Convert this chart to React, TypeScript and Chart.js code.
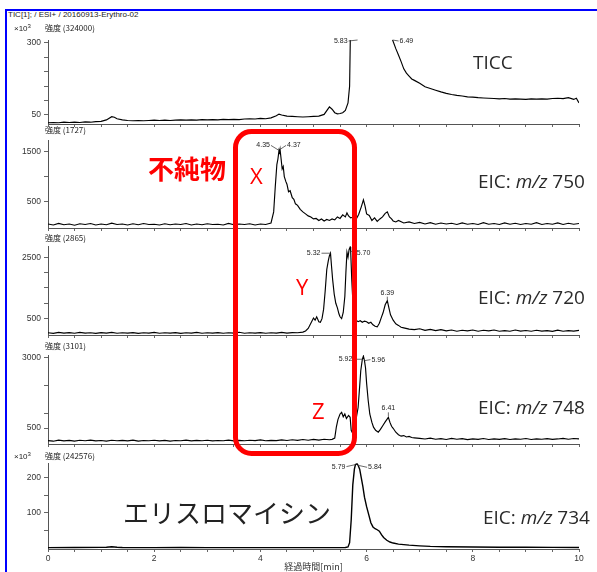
import React, { useEffect, useRef } from "react";
import { Chart, registerables } from "chart.js";
Chart.register(...registerables);

// ---------------- DATA ----------------
// TICC (intensity x10^3)
const ticcTime = [
  0, 0.1, 0.2, 0.3, 0.4, 0.5, 0.6, 0.7, 0.8, 0.9,
  1.0, 1.1, 1.2, 1.25, 1.3, 1.4, 1.5, 1.6, 1.7, 1.8,
  1.9, 2.0, 2.1, 2.2, 2.3, 2.4, 2.5, 2.6, 2.7, 2.8,
  2.9, 3.0, 3.1, 3.2, 3.3, 3.4, 3.5, 3.6, 3.7, 3.8,
  3.9, 4.0, 4.1, 4.2, 4.3, 4.35, 4.4, 4.5, 4.6, 4.7,
  4.8, 4.9, 5.0, 5.1, 5.2, 5.3, 5.35, 5.4, 5.45, 5.5,
  5.55, 5.6, 5.65, 5.68, 5.7, 5.83, 6.0, 6.3, 6.45, 6.49,
  6.55, 6.6, 6.65, 6.7, 6.75, 6.8, 6.85, 6.9, 7.0, 7.1,
  7.2, 7.3, 7.4, 7.5, 7.6, 7.7, 7.8, 7.9, 8.0, 8.1,
  8.2, 8.3, 8.4, 8.5, 8.6, 8.7, 8.8, 8.9, 9.0, 9.1,
  9.2, 9.3, 9.4, 9.5, 9.6, 9.7, 9.8, 9.9, 9.95, 10.0,
];
const ticcIntensity = [
  23, 24, 23, 25, 24, 25, 24, 26, 25, 27,
  28, 33, 44, 42, 37, 33, 31, 30, 31, 30,
  31, 32, 31, 32, 31, 32, 33, 32, 33, 32,
  34, 33, 34, 33, 35, 34, 35, 34, 36, 37,
  36, 38, 37, 40, 47, 53, 50, 46, 45, 44,
  43, 44, 45, 46, 52, 78, 70, 58, 54, 55,
  58, 66, 92, 150, 400, 900, 1000, 800, 400, 310,
  280, 258, 235, 210, 195, 185, 175, 170, 160, 148,
  142, 136, 130, 125, 121, 118, 116, 113, 112, 110,
  109, 108, 107, 106, 107, 105, 106, 105, 104, 106,
  105, 106, 105, 107, 108, 107, 110, 104, 108, 92,
];

// EIC m/z 750
const eic750Time = [
  0, 0.1, 0.2, 0.3, 0.4, 0.5, 0.6, 0.7, 0.8, 0.9,
  1.0, 1.1, 1.2, 1.3, 1.4, 1.5, 1.6, 1.7, 1.8, 1.9,
  2.0, 2.1, 2.2, 2.3, 2.4, 2.5, 2.6, 2.7, 2.8, 2.9,
  3.0, 3.1, 3.2, 3.3, 3.4, 3.5, 3.6, 3.7, 3.8, 3.9,
  4.0, 4.1, 4.15, 4.2, 4.25, 4.28, 4.31, 4.33, 4.35, 4.36,
  4.37, 4.39, 4.41, 4.43, 4.45, 4.48, 4.5, 4.53, 4.56, 4.6,
  4.63, 4.66, 4.7, 4.75, 4.8, 4.85, 4.9, 4.95, 5.0, 5.05,
  5.1, 5.15, 5.2, 5.25, 5.3, 5.35, 5.4, 5.45, 5.5, 5.55,
  5.6, 5.63, 5.66, 5.7, 5.75, 5.8, 5.85, 5.9, 5.94, 5.97,
  6.0, 6.05, 6.1, 6.15, 6.2, 6.25, 6.3, 6.35, 6.39, 6.43,
  6.47, 6.5, 6.55, 6.6, 6.7, 6.8, 6.9, 7.0, 7.1, 7.2,
  7.3, 7.4, 7.5, 7.6, 7.7, 7.8, 7.9, 8.0, 8.1, 8.2,
  8.3, 8.4, 8.5, 8.6, 8.7, 8.8, 8.9, 9.0, 9.1, 9.2,
  9.3, 9.4, 9.5, 9.6, 9.7, 9.8, 9.9, 10.0,
];
const eic750Intensity = [
  60, 40, 70, 45, 60, 35, 65, 50, 70, 40,
  60, 45, 75, 50, 60, 40, 65, 45, 70, 50,
  55, 40, 65, 45, 60, 50, 70, 40, 60, 45,
  65, 50, 55, 40, 70, 45, 60, 50, 65, 40,
  60, 50, 65, 80, 300, 800, 1240, 1350, 1520, 1480,
  1540, 1350, 1150, 1200, 1000, 900, 850, 700, 720, 580,
  550, 460, 430, 350, 300, 260, 220, 200, 160, 170,
  130, 160, 120, 150, 130, 160, 140, 200, 170, 240,
  200, 280, 220, 180, 200, 150, 250, 400, 540, 420,
  260, 230, 130, 180, 110, 160, 200, 270, 300, 200,
  160, 120, 100, 130, 80, 100, 70, 90, 60, 85,
  55, 80, 60, 75, 50, 80, 55, 70, 50, 85,
  55, 70, 50, 80, 55, 75, 50, 70, 55, 85,
  50, 70, 55, 80, 50, 75, 55, 70,
];

// EIC m/z 720
const eic720Time = [
  0, 0.1, 0.2, 0.3, 0.4, 0.5, 0.6, 0.7, 0.8, 0.9,
  1.0, 1.1, 1.2, 1.3, 1.4, 1.5, 1.6, 1.7, 1.8, 1.9,
  2.0, 2.1, 2.2, 2.3, 2.4, 2.5, 2.6, 2.7, 2.8, 2.9,
  3.0, 3.1, 3.2, 3.3, 3.4, 3.5, 3.6, 3.7, 3.8, 3.9,
  4.0, 4.1, 4.2, 4.3, 4.4, 4.5, 4.6, 4.7, 4.8, 4.85,
  4.9, 4.95, 5.0, 5.03, 5.06, 5.1, 5.13, 5.16, 5.19, 5.22,
  5.25, 5.28, 5.3, 5.32, 5.34, 5.36, 5.39, 5.42, 5.45, 5.48,
  5.5, 5.53, 5.56, 5.59, 5.61, 5.63, 5.65, 5.67, 5.69, 5.7,
  5.72, 5.74, 5.77, 5.8, 5.84, 5.88, 5.92, 5.96, 6.0, 6.04,
  6.08, 6.12, 6.16, 6.2, 6.24, 6.28, 6.31, 6.35, 6.39, 6.42,
  6.45, 6.5, 6.55, 6.6, 6.65, 6.7, 6.8, 6.9, 7.0, 7.1,
  7.2, 7.3, 7.4, 7.5, 7.6, 7.7, 7.8, 7.9, 8.0, 8.1,
  8.2, 8.3, 8.4, 8.5, 8.6, 8.7, 8.8, 8.9, 9.0, 9.1,
  9.2, 9.3, 9.4, 9.5, 9.6, 9.7, 9.8, 9.9, 10.0,
];
const eic720Intensity = [
  40, 20, 50, 30, 45, 25, 50, 30, 40, 20,
  45, 30, 50, 25, 40, 30, 45, 20, 40, 30,
  50, 25, 40, 30, 45, 20, 40, 30, 50, 25,
  40, 30, 45, 25, 40, 30, 55, 25, 40, 30,
  45, 25, 40, 30, 50, 30, 45, 40, 60, 100,
  180, 350, 520, 450, 560, 400, 380, 500, 800, 1400,
  2100, 2400, 2550, 2630, 2200, 1780, 1300, 1000, 850, 650,
  560, 500, 700, 1220, 2000, 2660, 2500, 2750, 2830, 2700,
  1780, 1100, 700, 450, 400, 430, 380, 420, 400, 350,
  380, 300, 250, 230, 350, 550, 690, 950, 1085, 850,
  625, 450, 330, 280, 220, 200, 160, 140, 170, 120,
  150, 110, 140, 100, 130, 90, 120, 100, 130, 90,
  120, 100, 130, 90, 110, 90, 130, 95, 115, 90,
  120, 95, 110, 85, 125, 90, 110, 95, 120,
];

// EIC m/z 748
const eic748Time = [
  0, 0.1, 0.2, 0.3, 0.4, 0.5, 0.6, 0.7, 0.8, 0.9,
  1.0, 1.1, 1.2, 1.3, 1.4, 1.5, 1.6, 1.7, 1.8, 1.9,
  2.0, 2.1, 2.2, 2.3, 2.4, 2.5, 2.6, 2.7, 2.8, 2.9,
  3.0, 3.1, 3.2, 3.3, 3.4, 3.5, 3.6, 3.7, 3.8, 3.9,
  4.0, 4.1, 4.2, 4.3, 4.4, 4.5, 4.6, 4.7, 4.8, 4.9,
  5.0, 5.1, 5.2, 5.3, 5.35, 5.4, 5.43, 5.46, 5.5, 5.53,
  5.56, 5.59, 5.62, 5.66, 5.69, 5.71, 5.74, 5.78, 5.81, 5.84,
  5.87, 5.89, 5.92, 5.94, 5.96, 5.98, 6.0, 6.03, 6.06, 6.1,
  6.13, 6.17, 6.22, 6.26, 6.31, 6.35, 6.38, 6.41, 6.44, 6.47,
  6.5, 6.55, 6.6, 6.65, 6.7, 6.75, 6.8, 6.85, 6.9, 7.0,
  7.1, 7.2, 7.3, 7.4, 7.5, 7.6, 7.7, 7.8, 7.9, 8.0,
  8.1, 8.2, 8.3, 8.4, 8.5, 8.6, 8.7, 8.8, 8.9, 9.0,
  9.1, 9.2, 9.3, 9.4, 9.5, 9.6, 9.7, 9.8, 9.9, 10.0,
];
const eic748Intensity = [
  50, 30, 70, 40, 60, 35, 65, 45, 70, 40,
  55, 35, 65, 45, 60, 40, 70, 35, 55, 45,
  65, 40, 60, 35, 55, 45, 70, 40, 60, 45,
  65, 40, 55, 45, 70, 40, 60, 45, 65, 50,
  75, 45, 60, 50, 75, 55, 80, 60, 90, 65,
  95, 70, 100, 80, 95, 140, 530, 800, 1000, 1060,
  900, 1000, 840, 950, 880, 420, 300, 500, 900, 1230,
  2000, 2540, 2950, 3060, 2900, 2640, 2100, 1480, 1000, 700,
  530, 420, 350, 450, 600, 720, 800, 880, 700, 560,
  490, 350, 260, 210, 230, 180, 200, 160, 150, 130,
  110, 140, 100, 120, 90, 130, 100, 120, 85, 110,
  95, 125, 90, 115, 95, 120, 90, 110, 100, 125,
  90, 115, 100, 120, 95, 110, 130, 100, 125, 110,
];

// EIC m/z 734 (intensity x10^3)
const eic734Time = [
  0, 0.5, 1.0, 1.1, 1.2, 1.3, 1.4, 2.0, 2.5, 3.0,
  3.5, 4.0, 4.5, 5.0, 5.5, 5.6, 5.65, 5.68, 5.71, 5.74,
  5.77, 5.79, 5.82, 5.84, 5.87, 5.9, 5.93, 5.96, 6.0, 6.04,
  6.08, 6.12, 6.16, 6.2, 6.24, 6.28, 6.32, 6.38, 6.44, 6.5,
  6.6, 6.7, 6.8, 7.0, 7.2, 7.5, 8.0, 8.5, 9.0, 9.5, 10.0,
];
const eic734Intensity = [
  1, 1.2, 1.5, 2, 3.5, 2, 1.2, 1, 1.1, 1,
  1, 1, 1, 1, 1, 1.2, 3, 15, 80, 180,
  225, 238, 240, 236, 225, 200, 175, 145, 118, 95,
  72, 60, 55, 52, 48, 38, 30, 22, 17, 14,
  11, 9.5, 8, 6, 4.5, 3.5, 2.5, 2, 1.8, 1.5, 1.3,
];

// axis ticks
const xTicks = [0, 0.5, 1, 1.5, 2, 2.5, 3, 3.5, 4, 4.5, 5, 5.5, 6, 6.5, 7, 7.5, 8, 8.5, 9, 9.5, 10];
const xTickLabels = [0, 2, 4, 6, 8, 10];
const ticcYTicks = [50, 100, 150, 200, 250, 300];
const ticcYLabels = [50, 300];
const eic750YTicks = [500, 1000, 1500];
const eic750YLabels = [500, 1500];
const eic720YTicks = [500, 1000, 1500, 2000, 2500];
const eic720YLabels = [500, 2500];
const eic748YTicks = [500, 1000, 2000, 3000];
const eic748YLabels = [500, 3000];
const eic734YTicks = [50, 100, 150, 200];
const eic734YLabels = [100, 200];

// axis ranges (max = the 強度 value reported in each header)
const ticcRange = [18.75, 310];
const eic750Range = [-20, 1727];
const eic720Range = [-33, 2865];
const eic748Range = [-70, 3101];
const eic734Range = [-3, 242.576];

// peak annotations
const ticcPeaks = ["5.83", "6.49"];
const eic750Peaks = ["4.35", "4.37"];
const eic720Peaks = ["5.32", "5.70", "6.39"];
const eic748Peaks = ["5.92", "5.96", "6.41"];
const eic734Peaks = ["5.79", "5.84"];

// ---------------- LAYOUT ----------------
const W = 597;
const PAD_TOP = 10;
const X0 = 48;
const RIGHT_PAD = 18;

type Off = { dx: number; dy: number; align: "left" | "right" | "center" };
const OFFS: Record<string, Off> = {
  "ticc5.83": { dx: -10, dy: 1, align: "right" },
  "ticc6.49": { dx: 7, dy: 1, align: "left" },
  "750_4.35": { dx: -9, dy: -5, align: "right" },
  "750_4.37": { dx: 7, dy: -4, align: "left" },
  "720_5.32": { dx: -10, dy: 0, align: "right" },
  "720_5.70": { dx: 6, dy: 2, align: "left" },
  "720_6.39": { dx: 0, dy: -8, align: "center" },
  "748_5.92": { dx: -10, dy: 0, align: "right" },
  "748_5.96": { dx: 7, dy: -1, align: "left" },
  "748_6.41": { dx: 0, dy: -9, align: "center" },
  "734_5.79": { dx: -10, dy: 2, align: "right" },
  "734_5.84": { dx: 10, dy: 2, align: "left" },
};

type PanelDef = {
  id: string;
  time: number[];
  values: number[];
  range: number[];
  yTicks: number[];
  yLabels: number[];
  peaks: string[];
  top: number;
  bottom: number;
  xh: number;
  showX: boolean;
};

const PANELS: PanelDef[] = [
  { id: "ticc", time: ticcTime, values: ticcIntensity, range: ticcRange, yTicks: ticcYTicks, yLabels: ticcYLabels, peaks: ticcPeaks, top: 40, bottom: 124, xh: 5, showX: false },
  { id: "750_", time: eic750Time, values: eic750Intensity, range: eic750Range, yTicks: eic750YTicks, yLabels: eic750YLabels, peaks: eic750Peaks, top: 140, bottom: 228, xh: 5, showX: false },
  { id: "720_", time: eic720Time, values: eic720Intensity, range: eic720Range, yTicks: eic720YTicks, yLabels: eic720YLabels, peaks: eic720Peaks, top: 246, bottom: 335, xh: 5, showX: false },
  { id: "748_", time: eic748Time, values: eic748Intensity, range: eic748Range, yTicks: eic748YTicks, yLabels: eic748YLabels, peaks: eic748Peaks, top: 355, bottom: 444, xh: 5, showX: false },
  { id: "734_", time: eic734Time, values: eic734Intensity, range: eic734Range, yTicks: eic734YTicks, yLabels: eic734YLabels, peaks: eic734Peaks, top: 463, bottom: 549, xh: 23, showX: true },
];

const peakLabelPlugin = {
  id: "peakLabels",
  afterDatasetsDraw(chart: any, _args: any, opts: any) {
    const items = (opts && opts.items) || [];
    const { ctx, chartArea } = chart;
    const xs = chart.scales.x;
    const ys = chart.scales.y;
    const data = chart.data.datasets[0].data as { x: number; y: number }[];
    ctx.save();
    ctx.font = '7px "Liberation Sans", Arial, sans-serif';
    ctx.fillStyle = "#222";
    ctx.strokeStyle = "#444";
    ctx.lineWidth = 0.8;
    ctx.textBaseline = "middle";
    for (const it of items) {
      let best = data[0];
      for (const d of data) if (Math.abs(d.x - it.t) < Math.abs(best.x - it.t)) best = d;
      const px = xs.getPixelForValue(it.t);
      const py = Math.max(ys.getPixelForValue(best.y), chartArea.top);
      const tx = px + it.dx;
      const ty = py + it.dy;
      ctx.textAlign = it.align;
      ctx.fillText(it.text, tx, ty);
      ctx.beginPath();
      if (it.align === "center") {
        ctx.moveTo(px, py - 1);
        ctx.lineTo(px, ty + 4);
      } else {
        const ex = it.align === "right" ? tx + 1 : tx - 1;
        ctx.moveTo(ex, ty);
        ctx.lineTo(px, py);
      }
      ctx.stroke();
    }
    ctx.restore();
  },
};

function Panel({ def }: { def: PanelDef }) {
  const ref = useRef<HTMLCanvasElement>(null);
  const canvasTop = def.top - PAD_TOP;
  const h = def.bottom - canvasTop + def.xh;
  useEffect(() => {
    const pts = def.time.map((t, i) => ({ x: t, y: def.values[i] }));
    const items = def.peaks.map((txt) => ({ t: parseFloat(txt), text: txt, ...OFFS[def.id + txt] }));
    const tickFont = { family: '"Liberation Sans", Arial, sans-serif', size: 8.5 };
    const chart = new Chart(ref.current as HTMLCanvasElement, {
      type: "line",
      data: {
        datasets: [
          {
            data: pts,
            borderColor: "#000",
            borderWidth: def.id === "734_" ? 1.4 : 1.15,
            pointRadius: 0,
            tension: 0,
            fill: false,
          },
        ],
      },
      options: {
        animation: false,
        responsive: false,
        maintainAspectRatio: false,
        events: [],
        layout: { padding: { top: PAD_TOP, right: RIGHT_PAD, left: 0, bottom: 0 } },
        plugins: {
          legend: { display: false },
          tooltip: { enabled: false },
          // @ts-ignore
          peakLabels: { items },
        },
        scales: {
          x: {
            type: "linear",
            min: 0,
            max: 10,
            afterBuildTicks: (s: any) => {
              s.ticks = xTicks.map((v) => ({ value: v }));
            },
            ticks: {
              autoSkip: false,
              maxRotation: 0,
              minRotation: 0,
              padding: 2,
              color: "#333",
              font: { family: '"Liberation Sans", Arial, sans-serif', size: 8.5 },
              callback: (v: any) => (def.showX && xTickLabels.includes(Number(v)) ? String(v) : ""),
            },
            grid: { drawOnChartArea: false, drawTicks: true, tickLength: 3, color: "#666" },
            border: { display: true, color: "#555", width: 1 },
            title: {
              display: def.showX,
              text: "経過時間[min]",
              color: "#333",
              font: { family: '"Noto Sans CJK JP", sans-serif', size: 9 },
              padding: 0,
            },
            afterFit: (s: any) => {
              s.height = def.xh;
              s.paddingLeft = 0;
              s.paddingRight = 0;
            },
          } as any,
          y: {
            type: "linear",
            min: def.range[0],
            max: def.range[1],
            afterBuildTicks: (s: any) => {
              s.ticks = def.yTicks.map((v) => ({ value: v }));
            },
            ticks: {
              autoSkip: false,
              padding: 3,
              color: "#333",
              font: tickFont,
              callback: (v: any) => (def.yLabels.includes(Number(v)) ? String(v) : ""),
            },
            grid: { drawOnChartArea: false, drawTicks: true, tickLength: 4, color: "#666" },
            border: { display: true, color: "#555", width: 1 },
            afterFit: (s: any) => {
              s.width = X0;
              s.paddingTop = 0;
              s.paddingBottom = 0;
            },
          } as any,
        },
      },
      plugins: [peakLabelPlugin as any],
    });
    return () => chart.destroy();
  }, []);
  return (
    <canvas
      ref={ref}
      width={W}
      height={h}
      style={{ position: "absolute", left: 0, top: canvasTop, width: W, height: h }}
    />
  );
}

function Txt(props: { x: number; cy: number; size: number; children: any; color?: string; family?: string; weight?: any }) {
  return (
    <div
      style={{
        position: "absolute",
        left: props.x,
        top: props.cy,
        transform: "translateY(-50%)",
        fontSize: props.size,
        lineHeight: 1,
        whiteSpace: "nowrap",
        color: props.color || "#333",
        fontFamily: props.family || '"Noto Sans CJK JP", sans-serif',
        fontWeight: props.weight || 400,
      }}
    >
      {props.children}
    </div>
  );
}

const SANS = '"Liberation Sans", Arial, sans-serif';
const LABEL_FONT = '"Open Sans", "Noto Sans", sans-serif';

function Eic({ x, cy, mz }: { x: number; cy: number; mz: string }) {
  return (
    <Txt x={x} cy={cy} size={19} family={LABEL_FONT} weight={400} color="#2a2a2a">
      EIC: <i>m/z</i> {mz}
    </Txt>
  );
}

export default function App() {
  return (
    <div
      style={{
        position: "absolute",
        left: 0,
        top: 0,
        width: W,
        height: 572,
        background: "#fff",
        overflow: "hidden",
      }}
    >
      {PANELS.map((p) => (
        <Panel key={p.id} def={p} />
      ))}

      <Txt x={8} cy={15} size={8} family={SANS} color="#222">
        TIC[1]; / ESI+ / 20160913-Erythro-02
      </Txt>
      <Txt x={14} cy={28} size={8} family={SANS} color="#222">
        ×10<sup style={{ fontSize: 6 }}>3</sup>
      </Txt>
      <Txt x={45} cy={28} size={8} color="#222">強度 (324000)</Txt>
      <Txt x={45} cy={130} size={8} color="#222">強度 (1727)</Txt>
      <Txt x={45} cy={238} size={8} color="#222">強度 (2865)</Txt>
      <Txt x={45} cy={346} size={8} color="#222">強度 (3101)</Txt>
      <Txt x={14} cy={456} size={8} family={SANS} color="#222">
        ×10<sup style={{ fontSize: 6 }}>3</sup>
      </Txt>
      <Txt x={45} cy={456} size={8} color="#222">強度 (242576)</Txt>

      <Txt x={473} cy={62} size={19} family={LABEL_FONT} weight={400} color="#2a2a2a">TICC</Txt>
      <Eic x={478} cy={181} mz="750" />
      <Eic x={478} cy={297} mz="720" />
      <Eic x={478} cy={407} mz="748" />
      <Eic x={483} cy={517} mz="734" />

      <Txt x={123} cy={512} size={26} weight={400} color="#222">エリスロマイシン</Txt>

      <Txt x={148} cy={168} size={26} weight={700} color="#ff0000">不純物</Txt>
      <Txt x={250} cy={175} size={22} family={LABEL_FONT} weight={400} color="#ff0000">X</Txt>
      <Txt x={296} cy={286} size={22} family={LABEL_FONT} weight={400} color="#ff0000">Y</Txt>
      <Txt x={312} cy={410} size={22} family={LABEL_FONT} weight={400} color="#ff0000">Z</Txt>

      <svg
        width={W}
        height={572}
        style={{ position: "absolute", left: 0, top: 0, pointerEvents: "none" }}
      >
        <rect x={5} y={9} width={2} height={563} fill="#0000ff" />
        <rect x={5} y={9} width={592} height={2} fill="#0000ff" />
        <rect x={235.5} y={131.5} width={119} height={322} rx={16} ry={16} fill="none" stroke="#ff0000" strokeWidth={5} />
      </svg>
    </div>
  );
}
